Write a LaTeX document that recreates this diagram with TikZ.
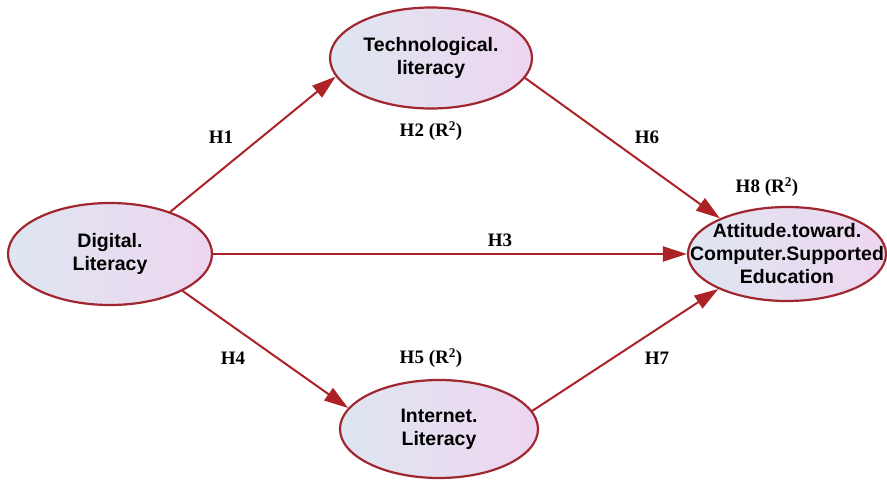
\documentclass[tikz,border=0pt]{standalone}
\usepackage{fontspec}
\setmainfont{Liberation Serif}
\setsansfont{Liberation Sans}
\usetikzlibrary{arrows.meta,shapes.geometric}
\definecolor{PathRed}{RGB}{172,34,38}
\definecolor{RimRed}{RGB}{160,38,48}
\definecolor{FillBlue}{RGB}{222,230,240}
\definecolor{FillPink}{RGB}{238,214,240}

\tikzset{
  construct/.style={ellipse, draw=RimRed, line width=2.2pt, shading=axis,
    left color=FillBlue, right color=FillPink, inner sep=0pt},
  constructtext/.style={font=\sffamily\bfseries\fontsize{19.5}{23}\selectfont, align=center},
  hyplabel/.style={font=\bfseries\fontsize{19}{22}\selectfont},
  path arrow/.style={draw=PathRed, line width=2pt, -{Triangle[length=24pt,width=15pt]}}
}

\begin{document}
\begin{tikzpicture}[x=1pt,y=-1pt]
    \useasboundingbox (0,0) rectangle (887,481);

    \node[construct, minimum width=204pt, minimum height=102pt] (dl) at (110,254) {};
    \node[construct, minimum width=202pt, minimum height=101pt] (tl) at (431,58) {};
    \node[construct, minimum width=198pt, minimum height=98pt] (il) at (439,429) {};
    \node[construct, minimum width=198pt, minimum height=94pt] (acs) at (787,254) {};

    \node[constructtext] (dltext) at (dl) {Digital.\\Literacy};
    \node[constructtext] (tltext) at (tl) {Technological.\\literacy};
    \node[constructtext] (iltext) at (il) {Internet.\\Literacy};
    \node[constructtext] (acstext) at (acs) {Attitude.toward.\\Computer.Supported\\Education};

    % paths between constructs
    \draw[path arrow] (dl.35) -- (tl.191);
    \draw[path arrow] (tl.348) -- (acs.152);
    \draw[path arrow] (dl.east) -- (acs.west);
    \draw[path arrow] (dl.333) -- (il.167);
    \draw[path arrow] (il.11) -- (acs.207);

    \node[hyplabel] (h1) at (221,137) {H1};
    \node[hyplabel] (h2) at (431,131) {H2 (R\textsuperscript{2})};
    \node[hyplabel] (h6) at (647,137) {H6};
    \node[hyplabel] (h8) at (767,187) {H8 (R\textsuperscript{2})};
    \node[hyplabel] (h3) at (500,240) {H3};
    \node[hyplabel] (h4) at (233,358) {H4};
    \node[hyplabel] (h5) at (431,358) {H5 (R\textsuperscript{2})};
    \node[hyplabel] (h7) at (657,358) {H7};
\end{tikzpicture}
\end{document}
